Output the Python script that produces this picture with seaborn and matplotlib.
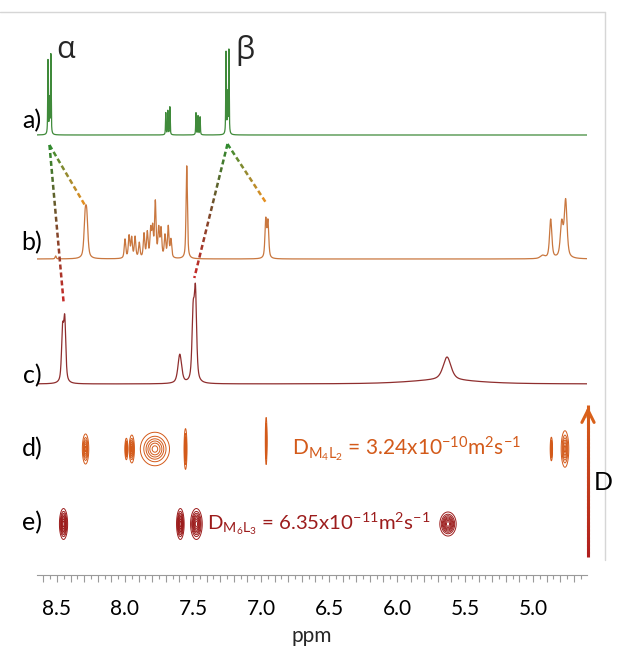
import numpy as np
import pandas as pd
import matplotlib
matplotlib.use("Agg")
import matplotlib.pyplot as plt
import seaborn as sns
from matplotlib.collections import LineCollection
from matplotlib.colors import LinearSegmentedColormap
from matplotlib.lines import Line2D
from matplotlib.ticker import MultipleLocator, FuncFormatter
import matplotlib.transforms as mtransforms

# ---------------- data ----------------
# a) free ligand 1H spectrum: line positions (ppm), heights, half widths
a_ppm = [8.566, 8.555, 8.545, 7.700, 7.685, 7.670, 7.478, 7.463, 7.448, 7.257, 7.246, 7.236]
a_hgt = [74, 35, 80, 22, 24, 28, 22, 19, 18, 82, 40, 84]
a_hw = [0.0025] * 12

# b) M4L2 spectrum
b_ppm = [8.51, 8.293, 8.281,
         8.000, 7.970, 7.951, 7.926, 7.895, 7.860, 7.836, 7.811, 7.797, 7.777, 7.752, 7.735, 7.706, 7.682, 7.662,
         7.546, 6.965, 6.949, 4.93, 4.870, 4.789, 4.760]
b_hgt = [3, 36, 36,
         19, 22, 20, 21, 15, 24, 25, 27, 28, 55, 28, 28, 22, 31, 18,
         93, 38, 36, 3, 39, 34, 57]
b_hw = [0.005, 0.010, 0.010] + [0.0065] * 15 + [0.006, 0.007, 0.007, 0.02, 0.010, 0.012, 0.012]

# c) M6L3 spectrum
c_ppm = [8.459, 8.443, 7.597, 7.499, 7.482, 5.632, 5.660]
c_hgt = [50, 60, 29, 64, 86, 23, 4]
c_hw = [0.009, 0.009, 0.016, 0.010, 0.010, 0.035, 0.30]

# d) DOSY contours of M4L2 (ppm, sigma ppm, sigma in D direction, D shift)
d_ppm = [8.29, 7.99, 7.95, 7.78, 7.555, 6.962, 4.865, 4.765]
d_sx = [0.011, 0.005, 0.009, 0.050, 0.005, 0.003, 0.004, 0.013]
d_sy = [7.0, 5.0, 6.5, 7.8, 9.5, 11.0, 5.5, 8.5]
d_dy = [0, 0, 0, 0, 0, 8, 0, 0]

# e) DOSY contours of M6L3
e_ppm = [8.452, 7.593, 7.475, 5.625]
e_sx = [0.014, 0.013, 0.020, 0.028]
e_sy = [7.2, 7.2, 7.2, 5.6]
e_dy = [0, 0, 0, 0]

x_ticks = [8.5, 8.0, 7.5, 7.0, 6.5, 6.0, 5.5, 5.0]
row_labels = ["a)", "b)", "c)", "d)", "e)"]
d_label = r"D$_{\mathrm{M_4L_2}}$ = 3.24x10$^{\mathrm{-10}}$m$^{\mathrm{2}}$s$^{\mathrm{-1}}$"
e_label = r"D$_{\mathrm{M_6L_3}}$ = 6.35x10$^{\mathrm{-11}}$m$^{\mathrm{2}}$s$^{\mathrm{-1}}$"

# ---------------- style ----------------
sns.set_theme(style="white")
plt.rcParams["font.family"] = ["Lato", "DejaVu Sans"]
plt.rcParams["mathtext.fontset"] = "custom"
plt.rcParams["mathtext.rm"] = "Lato"
plt.rcParams["mathtext.it"] = "Lato:italic"
plt.rcParams["mathtext.bf"] = "Lato:bold"

COL_A = "#3f8a3a"
COL_B = "#c9773f"
COL_C = "#8f2e2e"
COL_D = "#d35a1a"
COL_E = "#9c1c1c"

W, H = 620, 653
XL, XR = 8.647, 4.603
# layout: vertical positions (in pixel-like units, counted from the bottom)
A_BASE, B_BASE, C_BASE = H - 135, H - 259, H - 384
D_ROW, E_ROW = H - 449, H - 524

fig = plt.figure(figsize=(W / 100, H / 100), dpi=100)
ax = fig.add_axes([37 / W, (H - 575) / H, 550 / W, (575 - 20) / H])
ax.set_xlim(XL, XR)
ax.set_ylim(H - 575, H - 20)

ppm = np.linspace(XL, XR, 6000)


def spectrum(pos, hgt, hw):
    y = np.zeros_like(ppm)
    for p, h, w in zip(pos, hgt, hw):
        lor = w ** 2 / ((ppm - p) ** 2 + w ** 2)
        gau = np.exp(-np.log(2) * ((ppm - p) / w) ** 2)
        y += h * (0.6 * lor + 0.4 * gau)
    return y


for pos, hgt, hw, base, col, lw in [
    (a_ppm, a_hgt, a_hw, A_BASE, COL_A, 0.9),
    (b_ppm, b_hgt, b_hw, B_BASE, COL_B, 0.9),
    (c_ppm, c_hgt, c_hw, C_BASE, COL_C, 0.9),
]:
    df = pd.DataFrame({"ppm": ppm, "I": spectrum(pos, hgt, hw) + base})
    sns.lineplot(data=df, x="ppm", y="I", ax=ax, color=col, linewidth=lw,
                 sort=False, estimator=None)


def contours(pos, sx, sy, dy, row, col, nlev):
    gx = np.linspace(XL, XR, 3000)
    gy = np.linspace(row - 35, row + 35, 240)
    X, Y = np.meshgrid(gx, gy)
    Z = np.zeros_like(X)
    for p, a, b, s in zip(pos, sx, sy, dy):
        Z = np.maximum(Z, np.exp(-0.5 * (((X - p) / a) ** 2 + ((Y - row - s) / b) ** 2)))
    ax.contour(X, Y, Z, levels=np.linspace(0.1, 0.92, nlev), colors=col, linewidths=0.7)


contours(d_ppm, d_sx, d_sy, d_dy, D_ROW, COL_D, 6)
contours(e_ppm, e_sx, e_sy, e_dy, E_ROW, COL_E, 8)

ax.text(6.772, D_ROW, d_label, color=COL_D, fontsize=15, ha="left", va="center")
ax.text(7.397, E_ROW, e_label, color=COL_E, fontsize=14.7, ha="left", va="center")

# ---------------- gradient dashed correlation lines ----------------
fig.canvas.draw()


def grad_dash(p0, p1, colors, dash=5.0, gap=3.0, lw=1.8):
    cmap = LinearSegmentedColormap.from_list("g", colors)
    d0 = ax.transData.transform(p0)
    d1 = ax.transData.transform(p1)
    L = np.hypot(*(d1 - d0))
    segs, cols = [], []
    s = 0.0
    while s < L:
        e = min(s + dash, L)
        t0, t1 = s / L, e / L
        segs.append([np.array(p0) + t0 * (np.array(p1) - np.array(p0)),
                     np.array(p0) + t1 * (np.array(p1) - np.array(p0))])
        cols.append(cmap(0.5 * (t0 + t1)))
        s += dash + gap
    ax.add_collection(LineCollection(segs, colors=cols, linewidths=lw, clip_on=False))


alpha_apex = (float(np.mean(a_ppm[:3])), A_BASE - 10)
beta_apex = (float(np.mean(a_ppm[9:])), A_BASE - 9)
grad_dash(alpha_apex, (float(np.mean(b_ppm[1:3])), B_BASE + 52), ["#2e8b2e", "#9a8a30", "#f0901e"])
grad_dash(alpha_apex, (float(np.mean(c_ppm[:2])), C_BASE + 81), ["#2e8b2e", "#7a4a2a", "#c82828"])
grad_dash(beta_apex, (float(np.mean(b_ppm[19:21])), B_BASE + 55), ["#2e8b2e", "#9a8a30", "#f0901e"])
grad_dash(beta_apex, (float(np.mean(c_ppm[3:5])), C_BASE + 106), ["#2e8b2e", "#7a4a2a", "#c82828"])

# ---------------- D arrow ----------------
btr = mtransforms.blended_transform_factory(ax.transAxes, ax.transData)
ax_x = (588 - 37) / 550
yb, yt = H - 557, H - 406
n = 40
ys = np.linspace(yb, yt, n + 1)
segs = [[(ax_x, ys[i]), (ax_x, ys[i + 1] + 1.5)] for i in range(n)]
acm = LinearSegmentedColormap.from_list("arr", ["#b01e1e", "#d9601a"])
ax.add_collection(LineCollection(segs, colors=[acm(i / n) for i in range(n)], linewidths=2.2,
                                 transform=btr, clip_on=False, capstyle="butt"))
ax.annotate("", xy=(ax_x, yt + 2), xytext=(ax_x, yt - 14), xycoords=btr, textcoords=btr,
            arrowprops=dict(arrowstyle="->", color="#d9601a", lw=2.2, mutation_scale=22),
            annotation_clip=False)
fig.text(603 / W, 1 - 482 / H, "D", fontsize=18, ha="center", va="center", color="black")

# ---------------- labels ----------------
for lab, ypx in zip(row_labels, [121, 243, 376, 449, 523]):
    fig.text(32 / W, 1 - ypx / H, lab, fontsize=18, ha="center", va="center", color="black")
fig.text(66 / W, 1 - 50 / H, "α", fontsize=22, ha="center", va="center",
         family=["Open Sans", "DejaVu Sans"])
fig.text(245 / W, 1 - 50 / H, "β", fontsize=22, ha="center", va="center",
         family=["Open Sans", "DejaVu Sans"])

# ---------------- ruler axis ----------------
for side in ["left", "right", "top"]:
    ax.spines[side].set_visible(False)
ax.spines["bottom"].set_color("#9a9a9a")
ax.spines["bottom"].set_linewidth(0.8)
ax.set_yticks([])
ax.xaxis.set_major_locator(MultipleLocator(0.1))
ax.xaxis.set_minor_locator(MultipleLocator(0.05))
ax.xaxis.set_major_formatter(FuncFormatter(
    lambda v, p: f"{v:.1f}" if any(abs(v - t) < 1e-6 for t in x_ticks) else ""))
ax.tick_params(axis="x", which="major", direction="out", length=5, width=0.8, color="#9a9a9a",
               labelsize=15, pad=12, labelcolor="black", bottom=True)
ax.tick_params(axis="x", which="minor", direction="out", length=3, width=0.8, color="#9a9a9a",
               bottom=True)
ax.set_xlabel("")
ax.set_ylabel("")
fig.text(312 / W, 1 - 636 / H, "ppm", fontsize=15, ha="center", va="center")

# frame lines of the original figure
fig.add_artist(Line2D([0, 605 / W], [1 - 12 / H, 1 - 12 / H], color="#d6d6d6", lw=1))
fig.add_artist(Line2D([605 / W, 605 / W], [1 - 12 / H, 1 - 560 / H], color="#d6d6d6", lw=1))

fig.savefig("out.png", dpi=100)
